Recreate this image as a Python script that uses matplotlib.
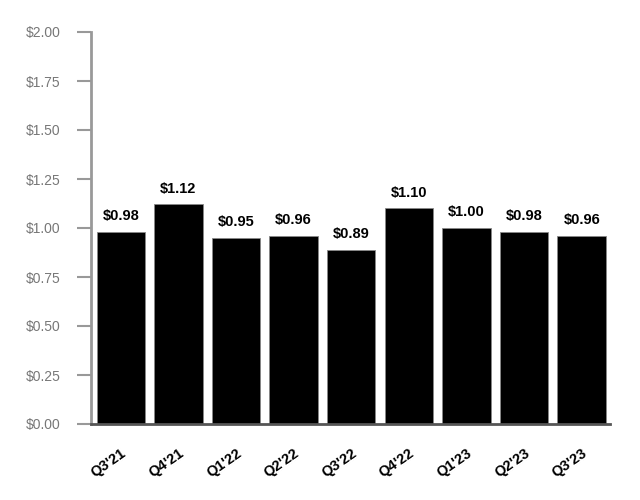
import matplotlib.pyplot as plt

quarters = ["Q3'21", "Q4'21", "Q1'22", "Q2'22", "Q3'22", "Q4'22", "Q1'23", "Q2'23", "Q3'23"]
values = [0.98, 1.12, 0.95, 0.96, 0.89, 1.10, 1.00, 0.98, 0.96]
yticks = [0.0, 0.25, 0.5, 0.75, 1.0, 1.25, 1.5, 1.75, 2.0]

plt.rcParams['font.family'] = ['Liberation Sans', 'DejaVu Sans']

fig = plt.figure(figsize=(6.4, 5), dpi=100)
ax = fig.add_axes([0.142, 0.152, 0.811, 0.784])

x = range(len(quarters))
bars = ax.bar(x, values, width=0.84, color='black', edgecolor='#888888', linewidth=0.6, zorder=2)

for xi, v in zip(x, values):
    ax.text(xi, v + 0.045, f"${v:.2f}", ha='center', va='bottom', fontsize=10.5,
            fontweight='bold', color='black')

ax.set_xlim(-0.52, 8.49)
ax.set_ylim(0, 2.0)
ax.set_yticks(yticks)
ax.set_yticklabels([f"${t:.2f}" for t in yticks], color='#777777', fontsize=10)
ax.set_xticks(list(x))
ax.set_xticklabels(quarters, rotation=35, ha='right', rotation_mode='anchor',
                   fontsize=10.5, fontweight='bold')

ax.tick_params(axis='y', length=10, width=1.5, color='#999999', pad=12)
ax.tick_params(axis='x', length=0, pad=16)

ax.spines['top'].set_visible(False)
ax.spines['right'].set_visible(False)
ax.spines['left'].set_color('#999999')
ax.spines['left'].set_linewidth(2)
ax.spines['bottom'].set_color('#555555')
ax.spines['bottom'].set_linewidth(2)
ax.spines['bottom'].set_zorder(3)

fig.savefig('out.png', dpi=100)
